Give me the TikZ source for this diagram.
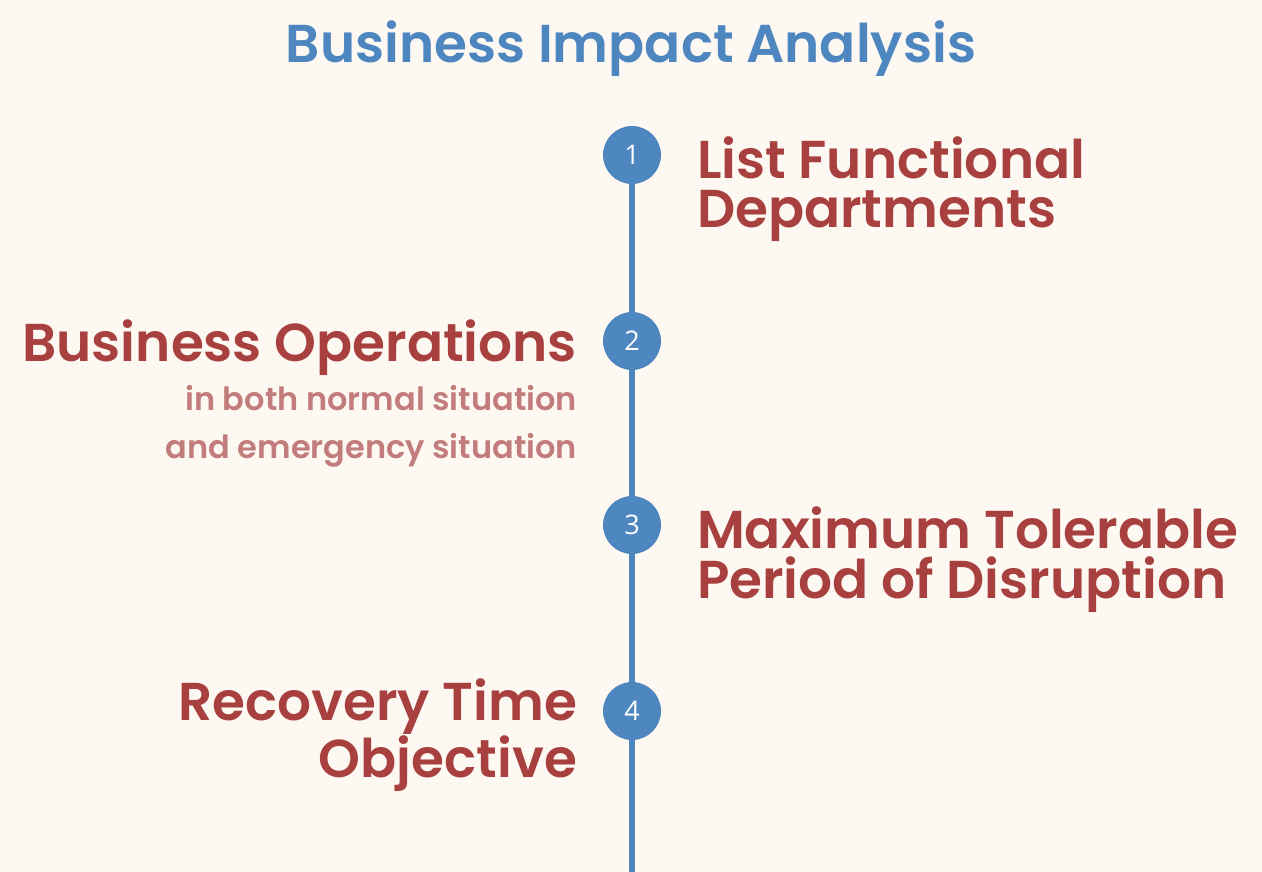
\documentclass[tikz,border=0pt]{standalone}
\usepackage{fontspec}
\setmainfont{Poppins}[BoldFont=Poppins SemiBold]
\newfontfamily\numfont{Open Sans}
\definecolor{bgcream}{HTML}{FDF9F2}
\definecolor{stepblue}{HTML}{4E86C0}
\definecolor{headred}{HTML}{A8403F}
\definecolor{notepink}{HTML}{C27C7B}
\tikzset{
  dot/.style={circle, fill=stepblue, minimum size=58pt, inner sep=0pt,
    text=white, font=\numfont\fontsize{27}{27}\selectfont},
  headr/.style={anchor=base west, align=left, text=headred, inner sep=0pt,
    font=\bfseries\fontsize{53.3}{50}\selectfont},
  headl/.style={anchor=base east, align=right, text=headred, inner sep=0pt,
    font=\bfseries\fontsize{53.3}{50}\selectfont},
  note/.style={anchor=base east, align=right, text=notepink, inner sep=0pt,
    font=\bfseries\fontsize{32}{48}\selectfont}
}
\begin{document}
\begin{tikzpicture}
[x=1pt, y=-1pt, line width=6pt]
\fill[bgcream] (0,0) rectangle (1262,872);
\useasboundingbox (0,0) rectangle (1262,872);
% title
\node[text=stepblue, font=\bfseries\fontsize{53.3}{53}\selectfont,
  anchor=base, inner sep=0pt] (title) at (631,63) {Business Impact Analysis};
% timeline
\coordinate (lineend) at (632,872);
\foreach \i/\y in {1/155,2/341,3/525,4/711}{
  \coordinate (c\i) at (632,\y);
}
\draw[stepblue] (c1) -- (lineend);
\foreach \i in {1,...,4}{
  \node[dot] (dot\i) at (c\i) {\i};
}
% step texts (base = last line)
\node[headr] (listdep) at (694,228) {List Functional\\Departments};
\node[headl] (busops) at (580,361) {Business Operations};
\node[note] (busnote) at (580,458) {in both normal situation\\and emergency situation};
\node[headr] (mtpd) at (694,598) {Maximum Tolerable\\Period of Disruption};
\node[headl] (rto) at (580,777) {Recovery Time\\Objective};
\end{tikzpicture}
\end{document}
